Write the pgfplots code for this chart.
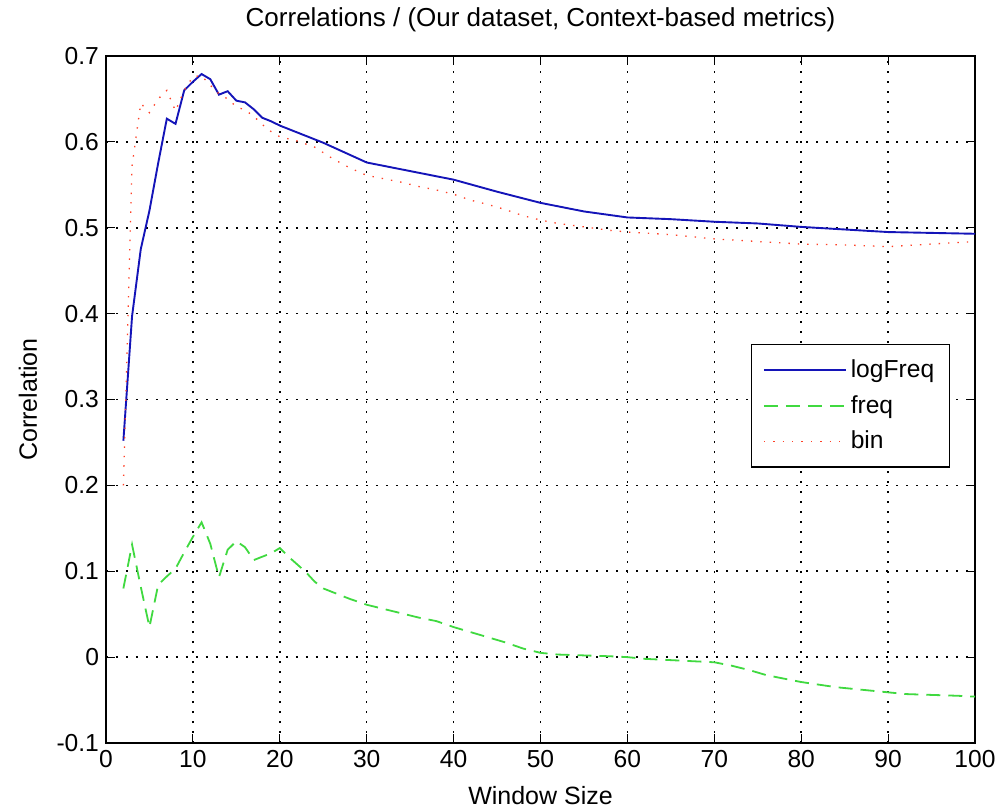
\documentclass[border=0pt]{standalone}
\usepackage{fontspec}
\setmainfont{Liberation Sans}
\usepackage{pgfplots}
\pgfplotsset{compat=1.18}
\definecolor{mblue}{rgb}{0.08,0.08,0.72}
\definecolor{mgreen}{rgb}{0.25,0.85,0.25}
\definecolor{mred}{rgb}{1,0.25,0.15}
\begin{document}
\begin{tikzpicture}
\useasboundingbox (-53pt,-33.5pt) rectangle (445.5pt,371.5pt);
\begin{axis}[
  name=ax,
  scale only axis, width=434.5pt, height=343.5pt,
  xmin=0, xmax=100, ymin=-0.1, ymax=0.7,
  xtick={0,10,20,30,40,50,60,70,80,90,100},
  ytick={-0.1,0,0.1,0.2,0.3,0.4,0.5,0.6,0.7},
  yticklabel style={/pgf/number format/fixed,/pgf/number format/precision=1},
  /pgf/number format/assume math mode=true,
  ticklabel style={font=\fontsize{12.3}{14}\selectfont},
  tick align=inside, major tick length=4.5pt,
  tick style={black, line width=0.5pt},
  axis line style={black, line width=0.6pt},
  grid=major,
  major grid style={black, line width=0.8pt, dash pattern=on 0.8pt off 4.2pt},
  title={Correlations / (Our dataset, Context-based metrics)},
  title style={at={(axis description cs:0.5,1.0262)}, anchor=base, font=\fontsize{13}{15}\selectfont},
  xlabel={Window Size},
  xlabel style={at={(axis description cs:0.5,-0.0902)}, anchor=base, font=\fontsize{12.5}{15}\selectfont},
  ylabel={Correlation},
  ylabel style={at={(axis description cs:-0.0794,0.5)}, anchor=base, font=\fontsize{12.5}{15}\selectfont},
  legend style={at={(axis description cs:0.971,0.581)}, anchor=north east, draw=black, fill=white,
    font=\fontsize{12.3}{14}\selectfont, row sep=3.5pt, inner xsep=5.5pt, inner ysep=5.5pt, line width=0.6pt},
  legend cell align=left,
  legend image code/.code={\draw[#1] (0pt,0pt) -- (41pt,0pt);},
]
\addplot[mblue, line width=0.95pt] coordinates {
(2,0.252) (3,0.397) (4,0.475) (5,0.520) (6,0.575) (7,0.627) (8,0.621) (9,0.660)
(10,0.670) (11,0.679) (12,0.673) (13,0.655) (14,0.659) (15,0.648) (16,0.646) (17,0.638)
(18,0.628) (19,0.624) (20,0.619) (25,0.599) (30,0.576) (35,0.566) (40,0.556) (45,0.542)
(50,0.529) (55,0.519) (60,0.512) (65,0.510) (70,0.507) (75,0.505) (80,0.501) (85,0.498)
(90,0.495) (95,0.494) (100,0.493)
};
\addlegendentry{logFreq}
\addplot[mgreen, line width=0.9pt, dash pattern=on 7pt off 4pt] coordinates {
(2,0.080) (3,0.131) (4,0.082) (5,0.035) (6,0.084) (7,0.094) (8,0.103) (9,0.122)
(10,0.140) (11,0.157) (12,0.132) (13,0.093) (14,0.125) (15,0.135) (16,0.128) (17,0.113)
(18,0.117) (19,0.121) (20,0.127) (21,0.117) (22,0.108) (23,0.099) (24,0.088) (25,0.080)
(26,0.076) (28,0.068) (30,0.061) (32,0.056) (34,0.051) (36,0.046) (38,0.042) (40,0.035)
(42,0.029) (44,0.023) (46,0.017) (48,0.010) (50,0.005) (52,0.003) (55,0.002) (58,0.001)
(60,0.000) (62,-0.002) (66,-0.004) (70,-0.006) (72,-0.010) (74,-0.015) (76,-0.021)
(78,-0.025) (80,-0.029) (82,-0.032) (84,-0.035) (86,-0.037) (88,-0.039) (90,-0.041)
(92,-0.043) (95,-0.044) (98,-0.045) (100,-0.046)
};
\addlegendentry{freq}
\addplot[mred, line width=0.65pt, dash pattern=on 0.7pt off 4pt] coordinates {
(2,0.200) (3,0.572) (4,0.645) (5,0.634) (6,0.650) (7,0.660) (8,0.636) (9,0.660)
(10,0.676) (11,0.677) (12,0.666) (13,0.656) (14,0.650) (15,0.641) (16,0.637) (17,0.630)
(18,0.620) (19,0.612) (20,0.606) (22,0.601) (24,0.594) (26,0.581) (28,0.570) (30,0.561)
(32,0.557) (34,0.553) (36,0.548) (38,0.544) (40,0.539) (42,0.532) (44,0.527) (46,0.521)
(48,0.514) (50,0.509) (52,0.505) (55,0.501) (58,0.497) (60,0.495) (65,0.492) (70,0.487)
(75,0.484) (80,0.481) (85,0.480) (90,0.478) (95,0.481) (100,0.484)
};
\addlegendentry{bin}
\end{axis}
\end{tikzpicture}
\end{document}
